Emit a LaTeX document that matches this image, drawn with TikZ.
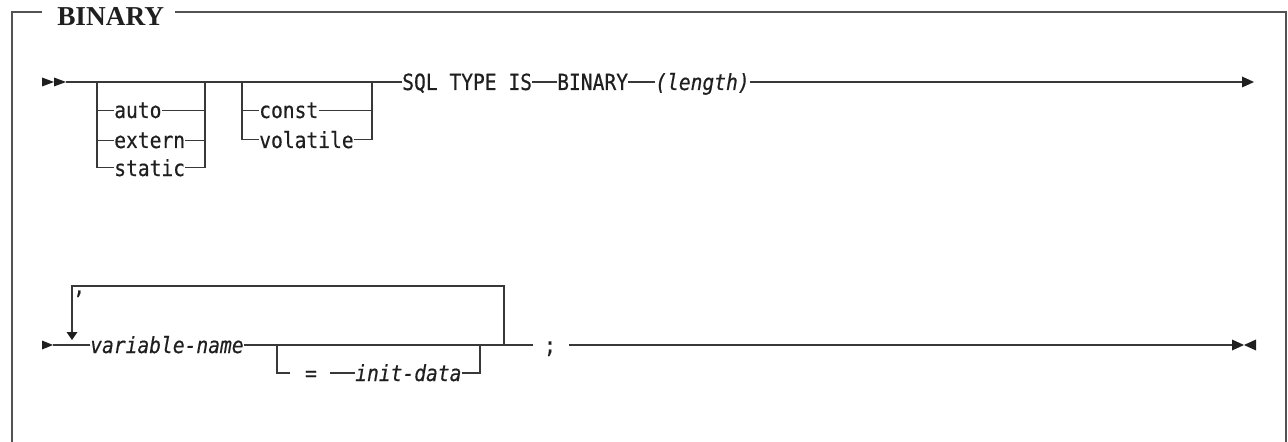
\documentclass[tikz,border=0pt]{standalone}
\usepackage{fontspec}
\newfontfamily\railfont[FakeStretch=0.88,FakeBold=0.5]{DejaVu Sans Mono}
\newfontfamily\titlefont{Liberation Serif}
\begin{document}
\begin{tikzpicture}[x=0.75pt,y=-0.75pt,
  rail/.style={draw=black!78, line width=1.1pt},
  frameline/.style={draw=black!68, line width=1.5pt},
  kw/.style={font=\fontsize{16.7}{18}\selectfont\railfont, inner sep=0pt, anchor=base west, text=black!88},
  var/.style={kw, font=\fontsize{16.7}{18}\selectfont\railfont\itshape},
  tipfill/.style={fill=black!88, draw=none}
]
\useasboundingbox (0,0) rectangle (1288,442);

% frame with title
\node[font=\fontsize{20.5}{22}\selectfont\titlefont\bfseries, inner sep=0pt, anchor=base west, text=black!88] (title) at (57,25.5) {BINARY};
\draw[frameline] (42,12) -- (12,12) -- (12,442);
\draw[frameline] (175,12) -- (1286,12) -- (1286,442);

% ---------- first rail ----------
\coordinate (s1) at (66,82);
\fill[tipfill] (42,77.5) -- (54,82) -- (42,86.5) -- cycle;
\fill[tipfill] (54,77.5) -- (66,82) -- (54,86.5) -- cycle;

% storage class choice
\coordinate (a0) at (97,82);
\coordinate (a1) at (205,82);
\node[kw] (auto)   at (114,118) {auto};
\node[kw] (extern) at (114,148) {extern};
\node[kw] (static) at (114,176) {static};
\draw[rail] (a0) |- (static.west);
\draw[rail] (a0 |- auto.west) -- (auto.west);
\draw[rail] (a0 |- extern.west) -- (extern.west);
\draw[rail] (auto.east) -- (a1 |- auto.east);
\draw[rail] (extern.east) -- (a1 |- extern.east);
\draw[rail] (static.east) -| (a1);

% qualifier choice
\coordinate (c0) at (242,82);
\coordinate (c1) at (372,82);
\node[kw] (const)    at (259,118) {const};
\node[kw] (volatile) at (259,148) {volatile};
\draw[rail] (c0) |- (volatile.west);
\draw[rail] (c0 |- const.west) -- (const.west);
\draw[rail] (const.east) -- (c1 |- const.east);
\draw[rail] (volatile.east) -| (c1);

% keywords
\node[kw] (sql)    at (402,90) {SQL TYPE IS};
\node[kw] (binary) at (557,90) {BINARY};
\node[var] (len)   at (655,90) {(length)};
\coordinate (e1) at (1242,82);
\draw[rail] (s1) -- (sql.west |- s1);
\draw[rail] (sql.east |- s1) -- (binary.west |- s1);
\draw[rail] (binary.east |- s1) -- (len.west |- s1);
\draw[rail] (len.east |- s1) -- (e1);
\fill[tipfill] (1242,76.5) -- (1254,82) -- (1242,87.5) -- cycle;

% ---------- second rail ----------
\coordinate (s2) at (53,345);
\fill[tipfill] (42,340.5) -- (53,345) -- (42,349.5) -- cycle;
\node[var] (vname) at (90,353) {variable-name};
\draw[rail] (s2) -- (vname.west |- s2);

% repetition loop with separator
\coordinate (r0) at (72,332);
\coordinate (r1) at (504,345);
\node[kw] (comma) at (73,294) {,};
\draw[rail] (r0) |- (504,286) -- (r1);
\fill[tipfill] (66.5,332) -- (77.5,332) -- (72,340) -- cycle;

% optional initializer
\coordinate (o0) at (277,345);
\coordinate (o1) at (480,345);
\node[kw, anchor=base] (eq) at (311,381) {=};
\node[var] (init) at (355,381) {init-data};
\draw[rail] (o0) |- (290,373);
\draw[rail] (330,373) -- (init.west |- 0,373);
\draw[rail] (init.east |- 0,373) -| (o1);

% terminator
\coordinate (g0) at (533,345);
\node[kw, anchor=base] (semi) at (550,353) {;};
\coordinate (g1) at (569,345);
\coordinate (e2) at (1232,345);
\draw[rail] (vname.east |- s2) -- (g0);
\draw[rail] (g1) -- (e2);
\fill[tipfill] (1232,339.5) -- (1244,345) -- (1232,350.5) -- cycle;
\fill[tipfill] (1256,339.5) -- (1244,345) -- (1256,350.5) -- cycle;
\end{tikzpicture}
\end{document}
